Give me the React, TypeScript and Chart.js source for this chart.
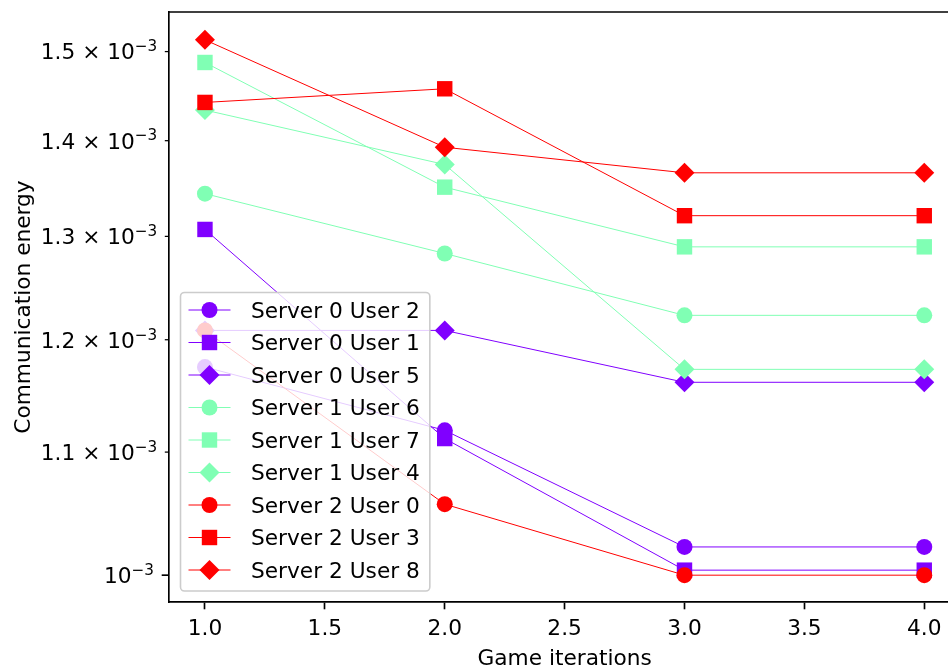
import React, { useEffect, useRef } from 'react';
import { Chart, registerables } from 'chart.js';

Chart.register(...registerables);

// ---- data ----
const iterations = [1, 2, 3, 4];

const seriesLabels = [
  'Server 0 User 2',
  'Server 0 User 1',
  'Server 0 User 5',
  'Server 1 User 6',
  'Server 1 User 7',
  'Server 1 User 4',
  'Server 2 User 0',
  'Server 2 User 3',
  'Server 2 User 8',
];

const server0User2 = [1.1749e-3, 1.1187e-3, 1.0221e-3, 1.0221e-3];
const server0User1 = [1.307e-3, 1.1116e-3, 1.0039e-3, 1.0039e-3];
const server0User5 = [1.2087e-3, 1.2087e-3, 1.1611e-3, 1.1611e-3];
const server1User6 = [1.3437e-3, 1.2829e-3, 1.2229e-3, 1.2229e-3];
const server1User7 = [1.4874e-3, 1.3505e-3, 1.2895e-3, 1.2895e-3];
const server1User4 = [1.4336e-3, 1.3744e-3, 1.1728e-3, 1.1728e-3];
const server2User0 = [1.2087e-3, 1.0565e-3, 1.0e-3, 1.0e-3];
const server2User3 = [1.4421e-3, 1.4574e-3, 1.321e-3, 1.321e-3];
const server2User8 = [1.5137e-3, 1.3929e-3, 1.3656e-3, 1.3656e-3];

const seriesValues = [
  server0User2, server0User1, server0User5,
  server1User6, server1User7, server1User4,
  server2User0, server2User3, server2User8,
];

const xTicks = [1.0, 1.5, 2.0, 2.5, 3.0, 3.5, 4.0];
const yTicks = [1.0e-3, 1.1e-3, 1.2e-3, 1.3e-3, 1.4e-3, 1.5e-3];
const yTickMantissas = ['', '1.1', '1.2', '1.3', '1.4', '1.5'];
const yTickExponent = '\u22123';

const xTitle = 'Game iterations';
const yTitle = 'Communication energy';

// ---- styling ----
const FONT = '"DejaVu Sans", sans-serif';
const FS = 21.7;
const CAP_HALF = FS * 0.729 / 2;
const serverColors = ['#8000ff', '#80ffb4', '#ff0000'];
const markerStyles = ['circle', 'rect', 'rectRot'];
const markerRadius: Record<string, number> = { circle: 8, rect: 10.9, rectRot: 10 };

// full axes extent in data units (the canvas cuts the axes off on the right)
const X_AXIS_MIN = 0.85;
const X_AXIS_FULL_MAX = 4.15;
const X_VISIBLE_MAX = 4.099;
const Y_MIN = 0.97944e-3;
const Y_MAX = 1.5467e-3;

function drawMarker(ctx: CanvasRenderingContext2D, style: string, x: number, y: number, color: string) {
  const r = markerRadius[style];
  ctx.fillStyle = color;
  ctx.beginPath();
  if (style === 'circle') {
    ctx.arc(x, y, r, 0, Math.PI * 2);
  } else if (style === 'rect') {
    const h = r * Math.SQRT1_2;
    ctx.rect(x - h, y - h, 2 * h, 2 * h);
  } else {
    ctx.moveTo(x - r, y);
    ctx.lineTo(x, y - r);
    ctx.lineTo(x + r, y);
    ctx.lineTo(x, y + r);
    ctx.closePath();
  }
  ctx.fill();
}

function roundRect(ctx: CanvasRenderingContext2D, x: number, y: number, w: number, h: number, r: number) {
  ctx.beginPath();
  ctx.moveTo(x + r, y);
  ctx.lineTo(x + w - r, y);
  ctx.arcTo(x + w, y, x + w, y + r, r);
  ctx.lineTo(x + w, y + h - r);
  ctx.arcTo(x + w, y + h, x + w - r, y + h, r);
  ctx.lineTo(x + r, y + h);
  ctx.arcTo(x, y + h, x, y + h - r, r);
  ctx.lineTo(x, y + r);
  ctx.arcTo(x, y, x + r, y, r);
  ctx.closePath();
}

// spines, log-axis ticks with scientific labels, axis titles
const axesDecor = {
  id: 'axesDecor',
  afterDatasetsDraw(chart: any) {
    const { ctx, chartArea: ca, scales } = chart;
    const ys = scales.y;
    const xs = scales.x;
    ctx.save();
    ctx.strokeStyle = '#000';
    ctx.lineWidth = 1.67;
    ctx.beginPath();
    ctx.moveTo(ca.left - 0.8, ca.top);
    ctx.lineTo(ca.right, ca.top);
    ctx.stroke();

    ctx.fillStyle = '#000';
    yTicks.forEach((v, i) => {
      const py = ys.getPixelForValue(v);
      const lg = Math.log10(v);
      const major = Math.abs(lg - Math.round(lg)) < 1e-9;
      const len = major ? 7.3 : 4.2;
      ctx.lineWidth = major ? 1.67 : 1.25;
      ctx.beginPath();
      ctx.moveTo(ca.left - len, py);
      ctx.lineTo(ca.left, py);
      ctx.stroke();

      const right = ca.left - len - (major ? 7.3 : 7.1) - 0.5;
      const mant = yTickMantissas[i];
      const main = mant ? `${mant} \u00d7 10` : '10';
      ctx.font = `${FS * 0.7}px ${FONT}`;
      const supW = ctx.measureText(yTickExponent).width;
      ctx.font = `${FS}px ${FONT}`;
      const mainW = ctx.measureText(main).width;
      const baseY = py + CAP_HALF;
      ctx.textAlign = 'left';
      ctx.textBaseline = 'alphabetic';
      ctx.fillText(main, right - supW - mainW, baseY);
      ctx.font = `${FS * 0.7}px ${FONT}`;
      ctx.fillText(yTickExponent, right - supW, baseY - 8.1);
    });

    ctx.font = `${FS}px ${FONT}`;
    ctx.textAlign = 'center';
    ctx.textBaseline = 'alphabetic';
    const xc = (xs.getPixelForValue(X_AXIS_MIN) + xs.getPixelForValue(X_AXIS_FULL_MAX)) / 2;
    ctx.fillText(xTitle, xc, 665);

    ctx.translate(30, (ca.top + ca.bottom) / 2);
    ctx.rotate(-Math.PI / 2);
    ctx.fillText(yTitle, 0, 0);
    ctx.restore();
  },
};

// framed legend in the lower-left corner of the plot
const boxLegend = {
  id: 'boxLegend',
  afterDatasetsDraw(chart: any) {
    const { ctx, chartArea: ca } = chart;
    const rowH = 32.5;
    const left = ca.left + 11.5;
    const bottom = ca.bottom - 11;
    const height = 17.5 + rowH * (seriesLabels.length - 1) + 21;
    const top = bottom - height;
    ctx.save();
    ctx.font = `${FS}px ${FONT}`;
    const textX = left + 70.5;
    const maxW = Math.max(...seriesLabels.map((s) => ctx.measureText(s).width));
    const width = textX + maxW + 10 - left;

    roundRect(ctx, left, top, width, height, 4);
    ctx.fillStyle = 'rgba(255,255,255,0.8)';
    ctx.fill();
    ctx.strokeStyle = '#cccccc';
    ctx.lineWidth = 1.6;
    ctx.stroke();

    seriesLabels.forEach((label, i) => {
      const cy = top + 17.5 + i * rowH;
      const color = serverColors[Math.floor(i / 3)];
      const style = markerStyles[i % 3];
      ctx.strokeStyle = color;
      ctx.lineWidth = 1;
      ctx.beginPath();
      ctx.moveTo(left + 8, cy);
      ctx.lineTo(left + 50, cy);
      ctx.stroke();
      drawMarker(ctx, style, left + 29, cy, color);
      ctx.fillStyle = '#000';
      ctx.textAlign = 'left';
      ctx.textBaseline = 'alphabetic';
      ctx.fillText(label, textX, cy + CAP_HALF);
    });
    ctx.restore();
  },
};

export default function App() {
  const canvasRef = useRef<HTMLCanvasElement>(null);

  useEffect(() => {
    document.body.style.margin = '0';
    const canvas = canvasRef.current;
    if (!canvas) return;

    const datasets = seriesLabels.map((label, i) => {
      const color = serverColors[Math.floor(i / 3)];
      const style = markerStyles[i % 3];
      return {
        label,
        data: iterations.map((x, j) => ({ x, y: seriesValues[i][j] })),
        borderColor: color,
        backgroundColor: color,
        borderWidth: 1,
        pointStyle: style,
        pointRadius: markerRadius[style],
        pointHoverRadius: markerRadius[style],
        pointBackgroundColor: color,
        pointBorderColor: color,
        pointBorderWidth: 0,
        tension: 0,
        fill: false,
        order: seriesLabels.length - i,
      };
    });

    const chart = new Chart(canvas, {
      type: 'line',
      data: { datasets },
      plugins: [axesDecor, boxLegend],
      options: {
        animation: false,
        responsive: false,
        devicePixelRatio: 1,
        events: [],
        layout: { autoPadding: false, padding: { top: 12, right: 0, left: 0, bottom: 0 } },
        font: { family: FONT, size: FS },
        plugins: {
          legend: { display: false },
          tooltip: { enabled: false },
        },
        scales: {
          x: {
            type: 'linear',
            min: X_AXIS_MIN,
            max: X_VISIBLE_MAX,
            afterBuildTicks: (s: any) => {
              s.ticks = xTicks.map((value) => ({ value }));
            },
            afterFit: (s: any) => {
              s.height = 65;
              s.paddingLeft = 0;
              s.paddingRight = 0;
            },
            ticks: {
              callback: (v: any) => Number(v).toFixed(1),
              font: { family: FONT, size: FS },
              color: '#000',
              padding: 6.8,
              maxRotation: 0,
              autoSkip: false,
            },
            grid: {
              drawOnChartArea: false,
              drawTicks: true,
              tickLength: 7.3,
              tickWidth: 1.67,
              tickColor: '#000',
            },
            border: { display: true, color: '#000', width: 1.67 },
          },
          y: {
            type: 'logarithmic',
            min: Y_MIN,
            max: Y_MAX,
            afterBuildTicks: (s: any) => {
              s.ticks = yTicks.map((value) => ({ value }));
            },
            afterFit: (s: any) => {
              s.width = 169;
              s.paddingTop = 0;
              s.paddingBottom = 0;
            },
            ticks: { display: false },
            grid: { display: false },
            border: { display: true, color: '#000', width: 1.67 },
          },
        },
      } as any,
    } as any);

    return () => chart.destroy();
  }, []);

  return (
    <div style={{ width: 948, height: 667, background: '#fff' }}>
      <canvas ref={canvasRef} width={948} height={667} style={{ display: 'block' }} />
    </div>
  );
}
